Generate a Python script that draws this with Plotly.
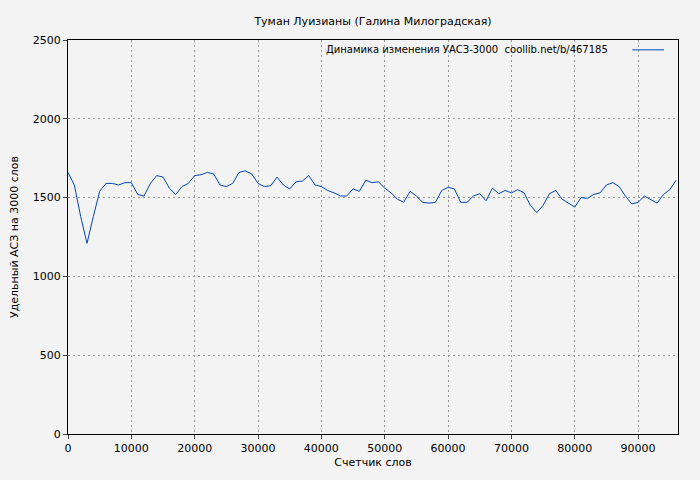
import plotly.graph_objects as go

x_words = [i * 1000 for i in range(97)]
usac = [1660,1580,1380,1210,1380,1540,1590,1590,1580,1595,1595,1520,1510,1590,1640,1630,1560,1520,1570,1590,
        1640,1645,1660,1650,1580,1570,1590,1660,1670,1650,1590,1570,1575,1630,1580,1555,1600,1605,1640,1580,
        1570,1545,1530,1510,1510,1555,1540,1610,1595,1600,1560,1530,1490,1470,1540,1510,1470,1465,1470,1545,
        1565,1555,1470,1470,1510,1525,1480,1560,1525,1545,1530,1550,1530,1450,1405,1450,1525,1545,1490,1465,
        1440,1500,1495,1520,1530,1580,1595,1570,1510,1460,1470,1510,1490,1465,1520,1550,1610]
series_name = "Динамика изменения УАСЗ-3000  coollib.net/b/467185"
title = "Туман Луизианы (Галина Милоградская)"
line_color = "#0047b3"

fig = go.Figure(go.Scatter(x=x_words, y=usac, mode="lines", name=series_name,
                           line=dict(color=line_color, width=1), showlegend=False))
grid = dict(showgrid=True, gridcolor="#999999", griddash="2px,3px", gridwidth=1,
            showline=True, linecolor="black", linewidth=1, ticks="outside", ticklen=4,
            zeroline=False, tickfont=dict(size=11, color="black"), automargin=False,
            tickformat="d")
fig.update_layout(
    width=700, height=480, paper_bgcolor="#f3f3f3", plot_bgcolor="#f3f3f3",
    margin=dict(l=60, r=30, t=32, b=54),
    font=dict(family="DejaVu Sans", size=11, color="black"),
    title=dict(text=title, x=0.5, xanchor="center", xref="paper", y=0.98, yanchor="top", font=dict(size=11)),
)
fig.add_annotation(text=series_name, xref="paper", yref="paper", x=0.888, y=0.975,
                   xanchor="right", yanchor="middle", showarrow=False, font=dict(size=10))
fig.add_shape(type="line", xref="paper", yref="paper", x0=0.925, x1=0.977, y0=0.975, y1=0.975,
              line=dict(color=line_color, width=1))
fig.update_xaxes(range=[0, 96300], dtick=10000, title=dict(text="Счетчик слов", standoff=4, font=dict(size=11)), mirror=True, **grid)
fig.update_yaxes(range=[0, 2500], dtick=500, title=dict(text="Удельный АСЗ на 3000 слов", standoff=16, font=dict(size=11)), mirror=True, **grid)
fig.write_html("out.html", post_script="document.body.style.background='#f3f3f3';")
